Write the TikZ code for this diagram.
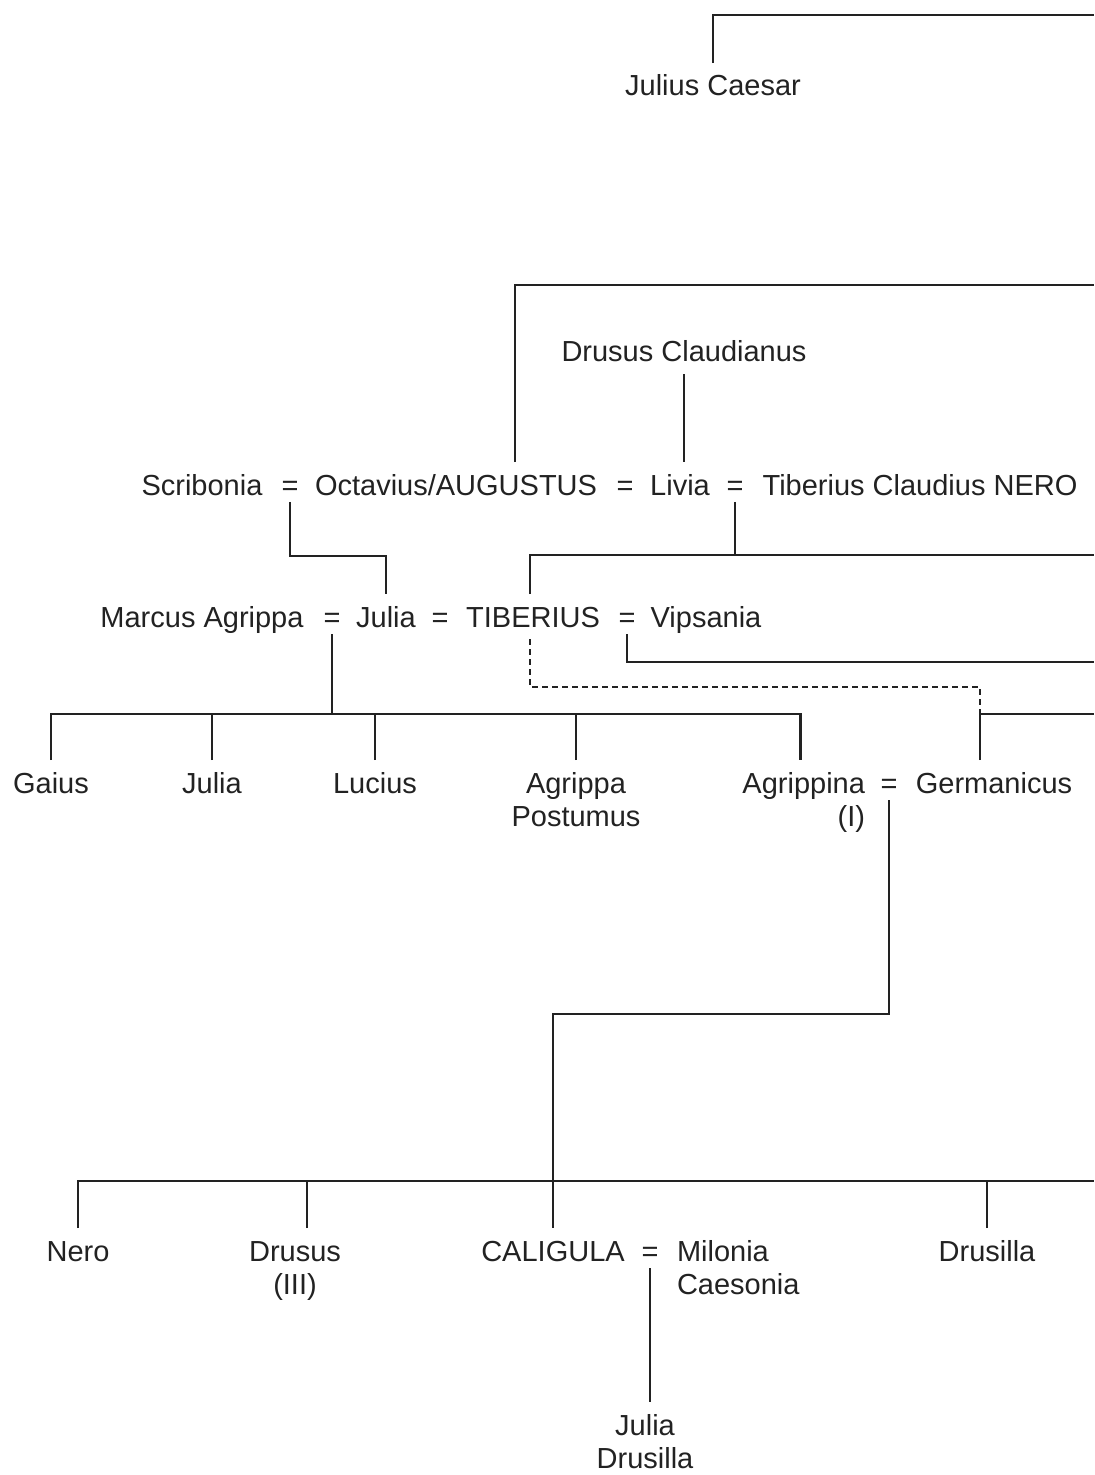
\documentclass[tikz,border=0pt]{standalone}
\usepackage{fontspec}
\setmainfont{Liberation Sans}
\definecolor{ink}{HTML}{222222}
\newcommand{\namefont}{\fontsize{14.5}{16.5}\selectfont}
\tikzset{
  person/.style={font=\namefont, text=ink, inner sep=0pt, outer xsep=0pt, outer ysep=6pt, text height=10.4pt, anchor=base},
  eqsign/.style={font=\namefont, text=ink, inner sep=0pt, outer xsep=0pt, outer ysep=3.5pt, text height=10.4pt, text depth=0pt, anchor=base},
  line/.style={draw=ink, line width=1.4pt},
  dline/.style={line, dash pattern=on 3pt off 2pt}
}
\begin{document}
\begin{tikzpicture}[x=0.5pt,y=-0.5pt]
\useasboundingbox (0,0) rectangle (1094,1475);
% helper levels (free ends at the right edge)
\coordinate (yA) at (1094,15);
\coordinate (yB) at (1094,285);
\coordinate (yC) at (0,556);
\coordinate (yD) at (1094,555);
\coordinate (yE) at (1094,662);
\coordinate (yF) at (0,687);
\coordinate (yG) at (0,714);
\coordinate (yGr) at (1094,714);
\coordinate (yH) at (0,1014);
\coordinate (yI) at (1094,1181);

% generation 0
\node[person] (jc) at (713,96) {Julius Caesar};
\node[person] (dc) at (684,362) {Drusus Claudianus};

% row 1
\node[person] (scrib) at (202,495) {Scribonia};
\node[eqsign] (eq1) at (290,495) {=};
\node[person] (aug) at (456,495) {Octavius/AUGUSTUS};
\node[eqsign] (eq2) at (625,495) {=};
\node[person] (livia) at (680,495) {Livia};
\node[eqsign] (eq3) at (735,495) {=};
\node[person] (nero) at (920,495) {Tiberius Claudius NERO};

% row 2
\node[person] (ma) at (202,627) {Marcus Agrippa};
\node[eqsign] (eq4) at (332,627) {=};
\node[person] (julia2) at (386,627) {Julia};
\node[eqsign] (eq5) at (440,627) {=};
\node[person] (tib) at (533,627) {TIBERIUS};
\node[eqsign] (eq6) at (627,627) {=};
\node[person] (vips) at (706,627) {Vipsania};

% row 3
\node[person] (gaius) at (51,793) {Gaius};
\node[person] (julia3) at (212,793) {Julia};
\node[person] (lucius) at (375,793) {Lucius};
\node[person] (postumus) at (576,793) {\begin{tabular}[t]{@{}c@{}}Agrippa\\Postumus\end{tabular}};
\node[person, anchor=base east] (agr) at (865,793) {\begin{tabular}[t]{@{}r@{}}Agrippina\\(I)\end{tabular}};
\node[eqsign] (eq7) at (889,793) {=};
\node[person] (germ) at (994,793) {Germanicus};

% row 4
\node[person] (neron) at (78,1261) {Nero};
\node[person] (drusus3) at (295,1261) {\begin{tabular}[t]{@{}c@{}}Drusus\\(III)\end{tabular}};
\node[person] (cal) at (553,1261) {CALIGULA};
\node[eqsign] (eq8) at (650,1261) {=};
\node[person, anchor=base west] (mil) at (677,1261) {\begin{tabular}[t]{@{}l@{}}Milonia\\Caesonia\end{tabular}};
\node[person] (drusilla) at (987,1261) {Drusilla};

% row 5
\node[person] (jd) at (645,1435) {\begin{tabular}[t]{@{}c@{}}Julia\\Drusilla\end{tabular}};

% connectors
\draw[line] (jc.north) |- (yA);
\draw[line] ([xshift=100pt]aug.north west) |- (yB);
\draw[line] (dc.south) -- (dc.south |- livia.north);
\draw[line] (eq1.south) |- (julia2.north |- yC) -- (julia2.north);
\draw[line] (eq3.south) -- (eq3.south |- yD);
\draw[line] ([xshift=-1.5pt]tib.north) |- (yD);
\draw[line] (eq6.south) |- (yE);
\draw[dline] ([xshift=-1.5pt]tib.south) |- ([xshift=-7pt]germ.north |- yF) -- ([xshift=-7pt]germ.north |- yG);
\draw[line] ([xshift=-7pt]germ.north) |- (yGr);
\draw[line] (eq4.south) -- (eq4.south |- yG);
\draw[line] (gaius.north) |- ([xshift=-1.75pt]agr.north |- yG) -- ([xshift=-1.75pt]agr.north);
\foreach \n in {julia3, lucius, postumus}
  \draw[line] (\n.north) -- (\n.north |- yG);
\draw[line] (eq7.south) |- (cal.north |- yH) -- (cal.north);
\draw[line] (neron.north) |- (yI);
\draw[line] ([xshift=6pt]drusus3.north) -- ([xshift=6pt]drusus3.north |- yI);
\draw[line] (drusilla.north) -- (drusilla.north |- yI);
\draw[line] (eq8.south) -- (eq8.south |- jd.north);
\end{tikzpicture}
\end{document}
